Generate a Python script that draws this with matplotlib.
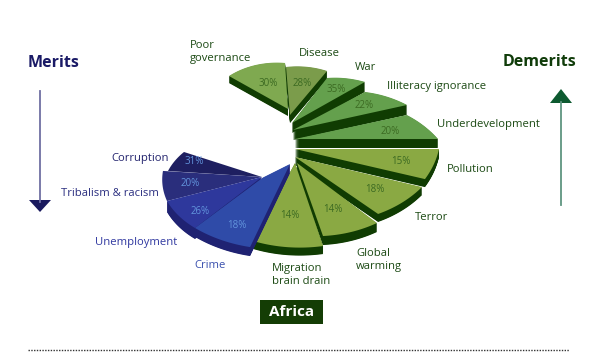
import matplotlib
matplotlib.use('Agg')
import matplotlib.pyplot as plt
import numpy as np
from matplotlib.patches import Rectangle

plt.rcParams['font.family'] = ['Open Sans', 'DejaVu Sans']

# values as printed on the slices
demerit_names = ['Poor\ngovernance', 'Disease', 'War', 'Illiteracy ignorance', 'Underdevelopment',
                 'Pollution', 'Terror', 'Global\nwarming', 'Migration\nbrain drain']
demerit_pct = [30, 28, 35, 22, 20, 15, 18, 14, 14]
merit_names = ['Corruption', 'Tribalism & racism', 'Unemployment', 'Crime']
merit_pct = [31, 20, 26, 18]

# slice shape, the picture does not scale these with the values
d_tip_x = [288, 290, 292, 293, 295, 295, 295, 297, 295]
d_tip_y = [109, 115, 123, 130, 139, 149, 157, 163, 163]
d_a0 = [218.6, 266.7, 298.6, 323, 343, 360, 378.7, 407, 436.7]
d_a1 = [267.4, 300.5, 321.2, 342.6, 360, 378.3, 404.4, 436, 470.7]
d_r0 = [75.5, 68.7, 73.2, 90.2, 117, 144, 134, 117.2, 121.9]
d_r1 = [65.8, 73, 93.6, 119.5, 143, 136.9, 116.3, 107.5, 119]
d_depth = [7, 8, 10, 10, 9, 8, 8, 9, 8]
d_col = ['#7fa950', '#7b9c4b', '#64a04d', '#64a04d', '#64a04d', '#8aa943', '#8aa943', '#8aa943', '#8aa943']
d_order = [1, 0, 2, 3, 4, 5, 6, 7, 8]

m_tip_x = [262, 262, 262, 290]
m_tip_y = [177, 177, 177, 164]
m_a0 = [185.2, 160.1, 132.6, 108.6]
m_a1 = [204.6, 185, 160.1, 136.1]
m_r0 = [94.4, 101, 99, 125.2]
m_r1 = [85.8, 99.4, 101, 131.8]
m_depth = [0, 0, 11, 9]
m_col = ['#1e1f60', '#2a2e7c', '#2e389c', '#2f4ba8']
# crime flares out towards its tip instead of running straight
crime_waist = (263, 177.5)

SQUASH = 0.7
DARK_G = '#103c02'
DARK_B = '#1f2272'


def draw_slice(ax, tx, ty, a0, a1, r0, r1, depth, col, side, waist=None):
    a = np.radians(np.linspace(a0, a1, 30))
    r = np.linspace(r0, r1, 30)
    x = np.r_[tx, tx + r*np.cos(a)]
    y = np.r_[ty, ty + SQUASH*r*np.sin(a)]
    if waist is not None:
        x = np.r_[x, waist[0]]
        y = np.r_[y, waist[1]]
    for d in np.arange(0.5, depth + 0.5, 0.5):
        ax.fill(x, y + d, color=side, lw=0)
    ax.fill(x, y, color=col, lw=0)


f = plt.figure(figsize=(5.95, 3.52), dpi=100)
ax = f.add_axes([0, 0, 1, 1])
ax.set_xlim(0, 595)
ax.set_ylim(352, 0)
ax.axis('off')

for i in d_order:
    draw_slice(ax, d_tip_x[i], d_tip_y[i], d_a0[i], d_a1[i], d_r0[i], d_r1[i], d_depth[i], d_col[i], DARK_G)
for i in range(len(merit_pct)):
    w = crime_waist if i == 3 else None
    draw_slice(ax, m_tip_x[i], m_tip_y[i], m_a0[i], m_a1[i], m_r0[i], m_r1[i], m_depth[i], m_col[i], DARK_B, w)

# percent labels
d_pct_xy = [(268, 83), (302, 83), (336, 90), (364, 106), (390, 131), (401, 162), (375, 190), (333, 210), (290, 216)]
m_pct_xy = [(194, 162), (190, 184), (200, 211), (237, 225)]
for p, (x, y) in zip(demerit_pct, d_pct_xy):
    ax.text(x, y, f'{p}%', color='#3c6a22', fontsize=7, ha='center', va='center')
for p, (x, y) in zip(merit_pct, m_pct_xy):
    ax.text(x, y, f'{p}%', color='#6294dc', fontsize=7, ha='center', va='center')

# category labels
d_lab_xy = [(190, 52), (299, 53), (355, 68), (387, 87), (437, 124), (447, 170), (415, 218), (356, 260), (272, 275)]
m_lab_xy = [(111, 159), (61, 194), (95, 242), (194, 265)]
m_lab_col = ['#23246e', '#2b2f80', '#3038a0', '#3a50ae']
for n, (x, y) in zip(demerit_names, d_lab_xy):
    ax.text(x, y, n, color='#1c4a14', fontsize=8.1, ha='left', va='center', linespacing=1.15)
for n, (x, y), c in zip(merit_names, m_lab_xy, m_lab_col):
    ax.text(x, y, n, color=c, fontsize=8.1, ha='left', va='center')

# side titles and arrows
ax.text(54, 63, 'Merits', color='#1a1a66', fontsize=11.5, fontweight='bold', ha='center', va='center')
ax.text(540, 62, 'Demerits', color='#103c0a', fontsize=11.5, fontweight='bold', ha='center', va='center')
ax.plot([40, 40], [91, 202], color='#6f6fa3', lw=1.3)
ax.fill([29, 51, 40], [200, 200, 212], color='#1a1a5e', lw=0)
ax.plot([561, 561], [205, 102], color='#5f9580', lw=1.3)
ax.fill([550, 572, 561], [103, 103, 89], color='#0d5a30', lw=0)

# Africa box
ax.add_patch(Rectangle((260, 300), 63, 24, color='#143d05', lw=0))
ax.text(292, 312, 'Africa', color='white', fontsize=11, fontweight='bold', ha='center', va='center')

ax.plot([28, 569], [350, 350], color='#333333', lw=1, ls=(0, (1, 1)))

f.savefig('out.png', dpi=100)
